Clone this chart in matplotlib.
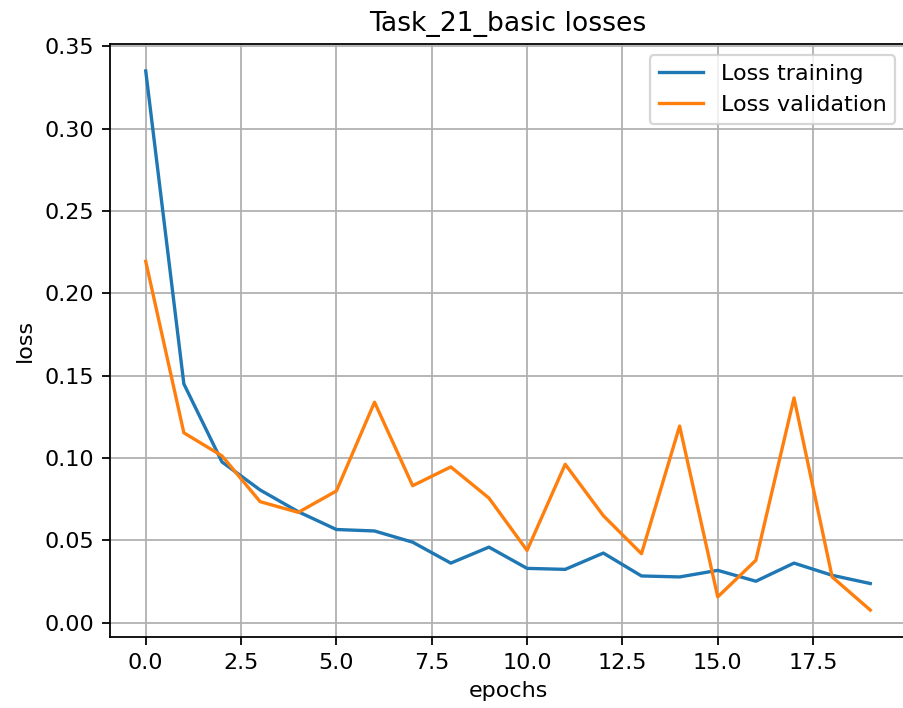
import matplotlib
matplotlib.use("Agg")
import matplotlib.pyplot as plt

epochs = list(range(20))
loss_training = [0.335, 0.145, 0.0976, 0.0806, 0.0674, 0.0566, 0.0557, 0.0489, 0.0362, 0.0459,
                 0.0330, 0.0324, 0.0423, 0.0284, 0.0278, 0.0318, 0.0252, 0.0362, 0.0288, 0.0238]
loss_validation = [0.2194, 0.1153, 0.1013, 0.0735, 0.0670, 0.0800, 0.1339, 0.0832, 0.0946, 0.0757,
                   0.0439, 0.0962, 0.0650, 0.0419, 0.1194, 0.0157, 0.0379, 0.1365, 0.0278, 0.0077]

dpi = 160
fig = plt.figure(figsize=(903 / dpi, 708 / dpi), dpi=dpi)
# axes run slightly past the right edge of the figure
ax = fig.add_axes([109.5 / 903, (708 - 637) / 708, 797 / 903, 593 / 708])

ax.plot(epochs, loss_training, label="Loss training")
ax.plot(epochs, loss_validation, label="Loss validation")
ax.set_title("Task_21_basic losses")
ax.set_xlabel("epochs")
ax.set_ylabel("loss")
ax.grid(True)
ax.legend(loc="upper right")

fig.savefig("out.png", dpi=dpi)
